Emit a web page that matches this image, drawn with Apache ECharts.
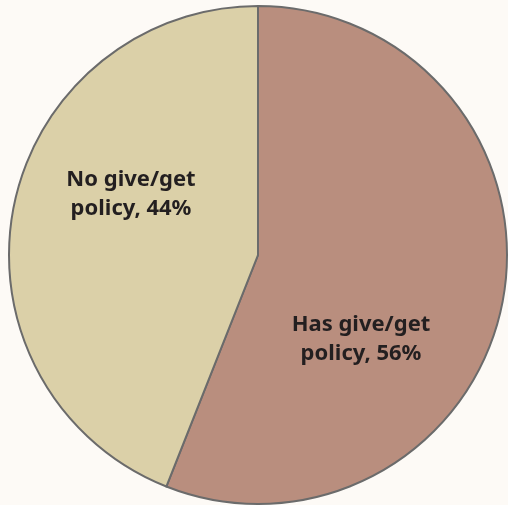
<!DOCTYPE html>
<html>
<head>
<meta charset="utf-8">
<script src="https://cdn.jsdelivr.net/npm/echarts@6/dist/echarts.min.js"></script>
<style>
html,body{margin:0;padding:0;background:#fdfaf6;}
#chart{width:508px;height:505px;}
</style>
</head>
<body>
<div id="chart"></div>
<script>
const categories = ['Has give/get\npolicy', 'No give/get\npolicy'];
const values = [56, 44];
const colors = ['#b98e7e', '#dbd0a8'];

// label anchor positions (layout only)
const labelAnchors = [[361, 339], [131, 194]];

const chart = echarts.init(document.getElementById('chart'), null, {renderer: 'canvas'});
chart.setOption({
  backgroundColor: '#fdfaf6',
  animation: false,
  series: [{
    type: 'pie',
    center: [258, 255],
    radius: 249,
    startAngle: 90,
    clockwise: true,
    avoidLabelOverlap: false,
    itemStyle: {borderColor: '#6b6b6b', borderWidth: 2},
    label: {
      show: true,
      position: 'inside',
      formatter: p => p.name + ', ' + p.value + '%',
      fontFamily: 'Noto Sans',
      fontWeight: 'bold',
      fontSize: 22,
      lineHeight: 29,
      color: '#231f20',
      align: 'center',
      verticalAlign: 'middle'
    },
    labelLine: {show: false},
    emphasis: {disabled: true},
    labelLayout: function (p) {
      const a = labelAnchors[p.dataIndex];
      return {x: a[0], y: a[1], align: 'center', verticalAlign: 'middle'};
    },
    data: categories.map((c, i) => ({name: c, value: values[i], itemStyle: {color: colors[i]}}))
  }]
});
</script>
</body>
</html>
